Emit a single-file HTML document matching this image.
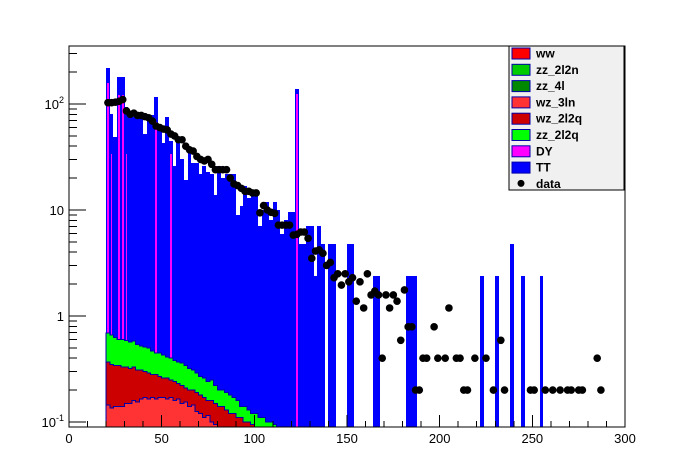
<!DOCTYPE html>
<html><head><meta charset="utf-8"><style>
html,body{margin:0;padding:0;background:#fff;}
svg{display:block;font-family:"Liberation Sans",Arial,sans-serif;}
</style></head><body>
<svg id="chart" width="696" height="474" viewBox="0 0 696 474" xmlns="http://www.w3.org/2000/svg">
<rect x="0" y="0" width="696" height="474" fill="#fff"/>
<g id="bars" shape-rendering="crispEdges"></g>
<g id="stack" shape-rendering="crispEdges"></g>
<g id="pts"></g>
<g id="axes" shape-rendering="crispEdges"></g>
<g id="legend"></g>
</svg>
<script>
// ---- data ----
const ttBins=[20,22,24,26,28,30,32,34,36,38,40,42,44,46,48,50,52,54,56,58,60,62,64,66,68,70,72,74,76,78,80,82,84,86,88,90,92,94,96,98,100,102,104,106,108,110,112,114,116,118,120,122,124,126,128,130,132,134,136,138,140,142,144,146,148,150,152,164,166,182,184,186,222,230,238,244,254];
const ttVals=[218,80,49,180,180,93,85,75,72,75,52,78,78,116,63,43,75,45,26,45,30,19,36,28,28,22,26,23,22,14,26,20,22,22,22,9,11,17,13,14,15,7,10,12,8,12,10,6,8,9.6,9.6,140,4.8,4.8,7.1,7.1,2.4,7.1,4.8,0,4.8,4.8,0,0,0,4.8,4.8,2.4,2.4,2.4,2.4,2.4,2.4,2.4,4.8,2.4,2.4];
const dyBins=[20,22,26,28,30,46,54,122];
const dyVals=[158,34,122,122,34,68,34,125];
const lowBins=[20,22,24,26,28,30,32,34,36,38,40,42,44,46,48,50,52,54,56,58,60,62,64,66,68,70,72,74,76,78,80,82,84,86,88,90,92,94,96,98,100,102,104,106,108,110];
const zz2l2qTop=[0.69,0.66,0.63,0.6,0.6,0.59,0.57,0.58,0.54,0.52,0.51,0.5,0.47,0.45,0.45,0.43,0.41,0.4,0.38,0.37,0.36,0.34,0.32,0.31,0.29,0.27,0.26,0.24,0.25,0.22,0.2,0.2,0.19,0.18,0.17,0.16,0.14,0.14,0.13,0.12,0.12,0.11,0.11,0.1,0.1,0.095];
const wz2l2qTop=[0.37,0.35,0.34,0.34,0.33,0.33,0.32,0.33,0.31,0.31,0.3,0.29,0.28,0.28,0.27,0.26,0.26,0.25,0.24,0.23,0.22,0.21,0.2,0.2,0.19,0.18,0.17,0.16,0.16,0.15,0.14,0.14,0.13,0.12,0.12,0.11,0.11,0.1,0.1,0.095,0.09,0.085,0.08,0.08,0.08,0.08];
const wz3lnTop=[0.145,0.135,0.14,0.14,0.14,0.15,0.15,0.16,0.155,0.165,0.17,0.165,0.17,0.165,0.17,0.17,0.165,0.17,0.16,0.165,0.15,0.155,0.14,0.145,0.125,0.12,0.11,0.115,0.1,0.095,0.09,0.085,0.08,0.08,0.08,0.08,0.08,0.08,0.08,0.08,0.08,0.08,0.08,0.08,0.08,0.08];
const dataX=[21,23,25,27,29,31,33,35,37,39,41,43,45,47,49,51,53,55,57,59,61,63,65,67,69,71,73,75,77,79,81,83,85,87,89,91,93,95,97,99,101,103,105,107,109,111,113,115,117,119,121,123,125,127,129,131,133,135,137,139,141,143,145,147,149,151,153,155,157,159,161,163,165,167,169,171,173,175,177,179,181,183,185,187,189,191,193,197,199,203,205,209,211,213,215,219,225,229,233,235,249,251,257,261,265,269,271,275,277,285,287];
const dataY=[103,103,104,106,110,86,80,82,78,78,76,74,69,62,60,58,57,52,50,46,46,40,37,36,32,30,29,30,27,24,24,24,24,20,17.6,17,16,15,15,14.5,14.5,9.4,11,10,9.5,9.3,7.2,7.2,7.2,7.2,5.8,5.9,6.2,6.2,5.4,3.5,4.1,4.2,3.9,3.0,3.2,2.3,2.5,1.96,2.5,2.1,2.3,1.38,2.1,1.19,2.5,1.58,1.72,1.58,0.4,1.58,1.19,1.58,1.38,0.59,1.76,0.79,0.79,0.2,0.2,0.4,0.4,0.79,0.4,0.4,1.19,0.4,0.4,0.2,0.2,0.4,0.4,0.2,0.59,0.2,0.2,0.2,0.2,0.2,0.2,0.2,0.2,0.2,0.2,0.4,0.2];
const xTicks=[0,50,100,150,200,250,300];
const yDecades=[-1,0,1,2];
const yBase=["10","1","10","10"];
const yExp=["-1","","","2"];
const legendLabels=["ww","zz_2l2n","zz_4l","wz_3ln","wz_2l2q","zz_2l2q","DY","TT","data"];
const legendColors=["#ff0000","#00cc00","#008800","#ff3333","#cc0000","#00ff00","#ff00ff","#0000ff",null];

// ---- geometry ----
const L=69,R=625,T=46,B=427,BW=2;
const X=v=>L+(v/300)*(R-L);
const Y=v=>316-106*Math.log10(v);
const yc=v=>Math.min(B,Math.max(T,Y(v)));
const NS="http://www.w3.org/2000/svg";
function mk(tag,parent){const e=document.createElementNS(NS,tag);parent.appendChild(e);return e;}

const bars=document.getElementById('bars');
ttBins.forEach((b,i)=>{ if(ttVals[i]<=0) return;
  const r=mk('rect',bars);
  
  
  const y=Math.round(yc(ttVals[i]));
  const x1=Math.round(X(b)),x2=Math.round(X(b+BW));
  r.setAttribute('x',x1);r.setAttribute('width',x2-x1);
  r.setAttribute('y',y);r.setAttribute('height',B-y);r.setAttribute('fill','#0000ff');
});
dyBins.forEach((b,i)=>{
  const r=mk('rect',bars);
  
  
  const y=Math.round(yc(dyVals[i]));
  const x1=Math.round(X(b)),x2=Math.round(X(b+BW));
  r.setAttribute('x',x1+1);r.setAttribute('width',Math.max(1,x2-x1-2));
  r.setAttribute('y',y);r.setAttribute('height',B-y);r.setAttribute('fill','#ff00ff');
});
const stack=document.getElementById('stack');
function stepArea(vals,color,name){
  let d='M'+X(lowBins[0])+','+B;
  lowBins.forEach((b,i)=>{const y=yc(vals[i]);d+=' L'+X(b)+','+y+' L'+X(b+BW)+','+y;});
  d+=' L'+X(lowBins[lowBins.length-1]+BW)+','+B+' Z';
  const p=mk('path',stack);
  
  
  p.setAttribute('d',d);p.setAttribute('fill',color);p.setAttribute('stroke','#0000aa');p.setAttribute('stroke-width','1');
}
stepArea(zz2l2qTop,'#00ff00','zz-2l2q-area');
stepArea(wz2l2qTop,'#cc0000','wz-2l2q-area');
stepArea(wz3lnTop,'#ff3333','wz-3ln-area');

const pts=document.getElementById('pts');
dataX.forEach((x,i)=>{
  const c=mk('circle',pts);
  
  
  c.setAttribute('cx',X(x));c.setAttribute('cy',Y(dataY[i]));c.setAttribute('r','3.8');c.setAttribute('fill','#000');
});

// ---- axes ----
const ax=document.getElementById('axes');
const fr=mk('rect',ax);


fr.setAttribute('x',L);fr.setAttribute('y',T);fr.setAttribute('width',R-L);fr.setAttribute('height',B-T);
fr.setAttribute('fill','none');fr.setAttribute('stroke','#000');
function line(x1,y1,x2,y2,name){const l=mk('line',ax);
  
  
  l.setAttribute('x1',x1);l.setAttribute('y1',y1);l.setAttribute('x2',x2);l.setAttribute('y2',y2);l.setAttribute('stroke','#000');}
for(let v=0;v<=300;v+=10){const x=X(v);line(x,B,x,B-(v%50===0?12:6),'x-tick');}
xTicks.forEach(v=>{const t=mk('text',ax);
  
  
  t.setAttribute('x',X(v));t.setAttribute('y',B+16);t.setAttribute('text-anchor','middle');t.setAttribute('font-size','13');t.textContent=v;});
yDecades.forEach((d,i)=>{
  for(let m=1;m<=9;m++){const v=m*Math.pow(10,d);const y=Y(v);if(y<T||y>B)continue;line(L,y,L+(m===1?17:8),y,'y-tick');}
  const t=mk('text',ax);
  
  
  const y=Y(Math.pow(10,d));
  t.setAttribute('x',L-5);t.setAttribute('y',y+5);t.setAttribute('text-anchor','end');t.setAttribute('font-size','13');
  t.innerHTML=yBase[i]+(yExp[i]?'<tspan dy="-6" font-size="9">'+yExp[i]+'</tspan>':'');
});
{ const v=0.09; if(Y(v)<=B) line(L,Y(v),L+8,Y(v),'y-tick'); }

// ---- legend ----
const lg=document.getElementById('legend');
const bx=mk('rect',lg);


bx.setAttribute('x',509);bx.setAttribute('y',46);bx.setAttribute('width',115);bx.setAttribute('height',144);
bx.setAttribute('fill','#f0f0f0');bx.setAttribute('stroke','#000');
legendLabels.forEach((lab,i)=>{
  const cy=53+i*16.3;
  if(legendColors[i]){const r=mk('rect',lg);
    
    
    r.setAttribute('x',512);r.setAttribute('y',cy-5);r.setAttribute('width',18);r.setAttribute('height',11);
    r.setAttribute('fill',legendColors[i]);r.setAttribute('stroke','#0000aa');}
  else {const c=mk('circle',lg);
    
    
    c.setAttribute('cx',521);c.setAttribute('cy',cy);c.setAttribute('r',3.5);c.setAttribute('fill','#000');}
  const t=mk('text',lg);
  
  
  t.setAttribute('x',536);t.setAttribute('y',cy+4.5);t.setAttribute('font-size','12');t.setAttribute('font-weight','bold');
  t.textContent=lab;
});
</script>
</body></html>
